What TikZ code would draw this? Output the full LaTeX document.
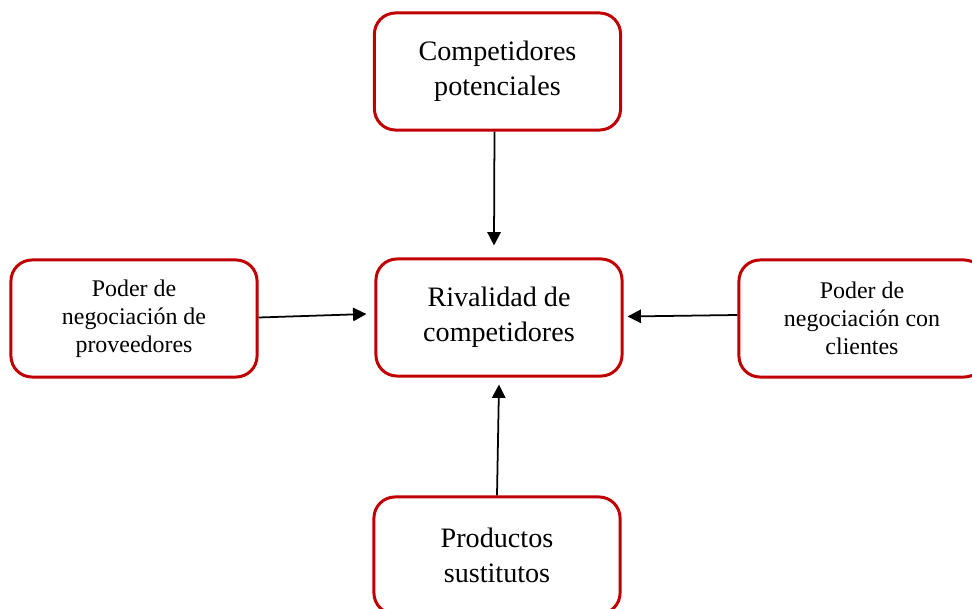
\documentclass[tikz,border=0pt]{standalone}
\usepackage{fontspec}
\setmainfont{Liberation Serif}
\usepackage{xcolor}
\definecolor{rojo}{HTML}{C00000}
\usetikzlibrary{arrows.meta}

\begin{document}
\begin{tikzpicture}[x=0.01cm, y=-0.01cm,
  every text node part/.style={align=center},
  caja/.style={draw=rojo, line width=0.85pt, rounded corners=6pt, fill=white,
    minimum width=2.46cm, minimum height=1.17cm, inner sep=2pt},
  grande/.style={font=\fontsize{8}{9.9}\selectfont},
  chica/.style={font=\fontsize{6.8}{8}\selectfont},
  flecha/.style={-{Triangle[length=3.8pt, width=3.8pt]}, line width=0.5pt, black}]
\clip (0,0) rectangle (972,609);
\node [caja,grande] (potenciales) at (497.5,71.5) {Competidores\\potenciales};
\node [caja,grande] (rivalidad) at (499,317.5) {Rivalidad de\\competidores};
\node [caja,chica] (proveedores) at (134,318.5) {Poder de\\negociación de\\proveedores};
\node [caja,chica] (clientes) at (862,318.5) {Poder de\\negociación con\\clientes};
\node [caja,grande] (sustitutos) at (497,555.5) {Productos\\sustitutos};
\draw [flecha] ([xshift=-0.03cm]potenciales.south) -- ([xshift=-0.05cm,yshift=0.12cm]rivalidad.north);
\draw [flecha] ([yshift=0.01cm]proveedores.east) -- ([xshift=-0.08cm,yshift=0.035cm]rivalidad.west);
\draw [flecha] ([yshift=0.035cm]clientes.west) -- ([xshift=0.04cm,yshift=0.01cm]rivalidad.east);
\draw [flecha] (sustitutos.north) -- ([yshift=-0.07cm]rivalidad.south);
\end{tikzpicture}
\end{document}
